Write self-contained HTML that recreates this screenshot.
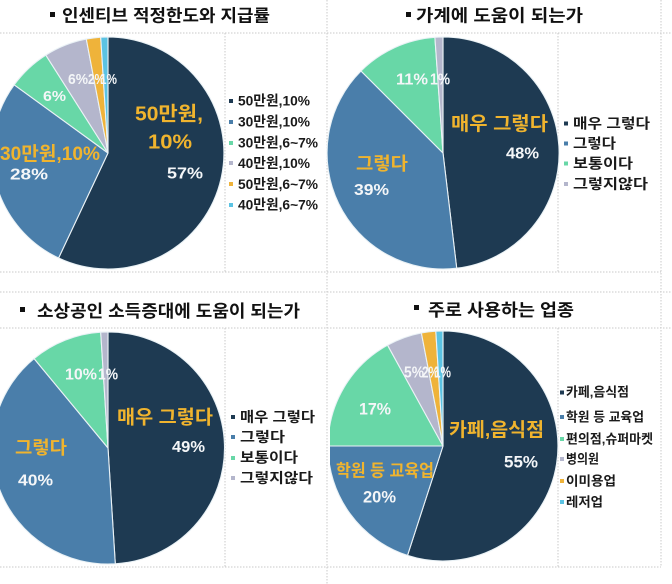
<!DOCTYPE html>
<html><head><meta charset="utf-8">
<style>
html,body{margin:0;padding:0;background:#fff;}
svg{display:block;}
text{font-family:"Liberation Sans","Noto Sans CJK KR",sans-serif;}
.t{font-size:17px;font-weight:bold;fill:#111;}
.lg{font-size:14px;font-weight:bold;fill:#1a1a1a;}
.lg4{font-size:13px;font-weight:bold;fill:#1a1a1a;}
.gd{font-weight:bold;fill:#f0b42e;}
.pc{font-weight:bold;fill:#f4f6f8;}
.grid{stroke:#c9c9c9;stroke-width:1;stroke-dasharray:1.5,1.5;fill:none;}
.s path{stroke:#eaf2f6;stroke-width:1.1;stroke-linejoin:round;}
</style></head>
<body>
<svg width="672" height="584" viewBox="0 0 672 584" xmlns="http://www.w3.org/2000/svg">
<defs>
<clipPath id="c4"><rect x="330" y="292" width="342" height="292"/></clipPath>
</defs>
<rect width="672" height="584" fill="#fff"/>

<!-- grid lines -->
<line class="grid" x1="0" y1="33" x2="672" y2="33"/>
<line class="grid" x1="0" y1="272" x2="661" y2="272"/>
<line class="grid" x1="0" y1="292" x2="672" y2="292"/>
<line class="grid" x1="0" y1="328" x2="672" y2="328"/>
<line class="grid" x1="0" y1="567" x2="661" y2="567"/>
<line class="grid" x1="225" y1="33" x2="225" y2="272"/>
<line class="grid" x1="225" y1="328" x2="225" y2="567"/>
<line class="grid" x1="327" y1="0" x2="327" y2="584"/>
<line class="grid" x1="558" y1="33" x2="558" y2="272"/>
<line class="grid" x1="558" y1="328" x2="558" y2="567"/>
<line class="grid" x1="661" y1="0" x2="661" y2="567"/>

<!-- titles -->
<rect x="50" y="12" width="5" height="5" fill="#111"/>
<text class="t" x="62" y="21.5" textLength="208" lengthAdjust="spacingAndGlyphs">인센티브 적정한도와 지급률</text>
<rect x="406" y="12" width="5" height="5" fill="#111"/>
<text class="t" x="416" y="21.5" textLength="167" lengthAdjust="spacingAndGlyphs">가계에 도움이 되는가</text>
<rect x="20" y="307" width="5" height="5" fill="#111"/>
<text class="t" x="37" y="317" textLength="263" lengthAdjust="spacingAndGlyphs">소상공인 소득증대에 도움이 되는가</text>
<rect x="414" y="305" width="5" height="5" fill="#111"/>
<text class="t" x="428" y="316" textLength="146" lengthAdjust="spacingAndGlyphs">주로 사용하는 업종</text>

<!-- PIE 1 -->
<g class="s">
<path d="M108,153 L108,37 A116,116 0 1,1 58.6,258 Z" fill="#1e3a52"/>
<path d="M108,153 L58.6,258 A116,116 0 0,1 14.2,84.8 Z" fill="#4a7eaa"/>
<path d="M108,153 L14.2,84.8 A116,116 0 0,1 45.8,55.1 Z" fill="#68d7a7"/>
<path d="M108,153 L45.8,55.1 A116,116 0 0,1 86.3,39.1 Z" fill="#b4b6cc"/>
<path d="M108,153 L86.3,39.1 A116,116 0 0,1 100.7,37.2 Z" fill="#efb33a"/>
<path d="M108,153 L100.7,37.2 A116,116 0 0,1 108,37 Z" fill="#5bc3e3"/>
</g>
<text class="gd" x="135" y="120.5" font-size="20" textLength="68" lengthAdjust="spacingAndGlyphs">50만원,</text>
<text class="gd" x="148" y="148.5" font-size="20" textLength="44" lengthAdjust="spacingAndGlyphs">10%</text>
<text class="pc" x="167" y="178.5" font-size="16" textLength="36" lengthAdjust="spacingAndGlyphs">57%</text>
<text class="gd" x="0" y="160" font-size="19" textLength="100" lengthAdjust="spacingAndGlyphs">30만원,10%</text>
<text class="pc" x="10" y="179.5" font-size="16" textLength="38" lengthAdjust="spacingAndGlyphs">28%</text>
<text class="pc" x="43" y="101" font-size="15" textLength="23" lengthAdjust="spacingAndGlyphs">6%</text>
<text class="pc" x="68" y="84" font-size="15" textLength="20" lengthAdjust="spacingAndGlyphs">6%</text>
<text class="pc" x="88" y="84" font-size="15" textLength="17" lengthAdjust="spacingAndGlyphs">2%</text>
<text class="pc" x="100" y="84" font-size="15" textLength="17" lengthAdjust="spacingAndGlyphs">1%</text>

<!-- legend 1 -->
<rect x="229" y="99" width="4" height="4" fill="#1e3a52"/>
<text class="lg" x="238" y="105.7" textLength="72" lengthAdjust="spacingAndGlyphs">50만원,10%</text>
<rect x="229" y="120" width="4" height="4" fill="#4a7eaa"/>
<text class="lg" x="238" y="126.5" textLength="72" lengthAdjust="spacingAndGlyphs">30만원,10%</text>
<rect x="229" y="141" width="4" height="4" fill="#68d7a7"/>
<text class="lg" x="238" y="147.3" textLength="80" lengthAdjust="spacingAndGlyphs">30만원,6~7%</text>
<rect x="229" y="161" width="4" height="4" fill="#b4b6cc"/>
<text class="lg" x="238" y="168.1" textLength="72" lengthAdjust="spacingAndGlyphs">40만원,10%</text>
<rect x="229" y="182" width="4" height="4" fill="#efb33a"/>
<text class="lg" x="238" y="188.9" textLength="80" lengthAdjust="spacingAndGlyphs">50만원,6~7%</text>
<rect x="229" y="203" width="4" height="4" fill="#5bc3e3"/>
<text class="lg" x="238" y="209.7" textLength="80" lengthAdjust="spacingAndGlyphs">40만원,6~7%</text>

<!-- PIE 2 -->
<g class="s">
<path d="M443,153 L443,37 A116,116 0 0,1 456.7,268.2 Z" fill="#1e3a52"/>
<path d="M443,153 L456.7,268.2 A116,116 0 0,1 361,71 Z" fill="#4a7eaa"/>
<path d="M443,153 L361,71 A116,116 0 0,1 434.9,37.3 Z" fill="#68d7a7"/>
<path d="M443,153 L434.9,37.3 A116,116 0 0,1 443,37 Z" fill="#b4b6cc"/>
</g>
<text class="gd" x="451" y="130" font-size="19" textLength="97" lengthAdjust="spacingAndGlyphs">매우 그렇다</text>
<text class="pc" x="506" y="158.5" font-size="16" textLength="33" lengthAdjust="spacingAndGlyphs">48%</text>
<text class="gd" x="356" y="170" font-size="18" textLength="52" lengthAdjust="spacingAndGlyphs">그렇다</text>
<text class="pc" x="354" y="195" font-size="16" textLength="35" lengthAdjust="spacingAndGlyphs">39%</text>
<text class="pc" x="396" y="84.5" font-size="16" textLength="32" lengthAdjust="spacingAndGlyphs">11%</text>
<text class="pc" x="430" y="84.5" font-size="16" textLength="20" lengthAdjust="spacingAndGlyphs">1%</text>

<!-- legend 2 -->
<rect x="564" y="121.5" width="4" height="4" fill="#1e3a52"/>
<text class="lg" x="573" y="128.3" textLength="77" lengthAdjust="spacingAndGlyphs">매우 그렇다</text>
<rect x="564" y="141.5" width="4" height="4" fill="#4a7eaa"/>
<text class="lg" x="573" y="148.3" textLength="43" lengthAdjust="spacingAndGlyphs">그렇다</text>
<rect x="564" y="161.5" width="4" height="4" fill="#68d7a7"/>
<text class="lg" x="573" y="168.3" textLength="60" lengthAdjust="spacingAndGlyphs">보통이다</text>
<rect x="564" y="182" width="4" height="4" fill="#b4b6cc"/>
<text class="lg" x="573" y="189" textLength="75" lengthAdjust="spacingAndGlyphs">그렇지않다</text>

<!-- PIE 3 -->
<g class="s">
<path d="M108,448 L108,332 A116,116 0 0,1 115.3,563.8 Z" fill="#1e3a52"/>
<path d="M108,448 L115.3,563.8 A116,116 0 0,1 34.1,358.6 Z" fill="#4a7eaa"/>
<path d="M108,448 L34.1,358.6 A116,116 0 0,1 100.7,332.2 Z" fill="#68d7a7"/>
<path d="M108,448 L100.7,332.2 A116,116 0 0,1 108,332 Z" fill="#b4b6cc"/>
</g>
<text class="gd" x="117" y="423.5" font-size="19" textLength="96" lengthAdjust="spacingAndGlyphs">매우 그렇다</text>
<text class="pc" x="172" y="452" font-size="16" textLength="33" lengthAdjust="spacingAndGlyphs">49%</text>
<text class="gd" x="15" y="454" font-size="18" textLength="52" lengthAdjust="spacingAndGlyphs">그렇다</text>
<text class="pc" x="18" y="485.5" font-size="16" textLength="35" lengthAdjust="spacingAndGlyphs">40%</text>
<text class="pc" x="65" y="379.5" font-size="16" textLength="32" lengthAdjust="spacingAndGlyphs">10%</text>
<text class="pc" x="98" y="379.5" font-size="16" textLength="20" lengthAdjust="spacingAndGlyphs">1%</text>

<!-- legend 3 -->
<rect x="231" y="415" width="4" height="4" fill="#1e3a52"/>
<text class="lg" x="240" y="422" textLength="75" lengthAdjust="spacingAndGlyphs">매우 그렇다</text>
<rect x="231" y="435" width="4" height="4" fill="#4a7eaa"/>
<text class="lg" x="240" y="442" textLength="45" lengthAdjust="spacingAndGlyphs">그렇다</text>
<rect x="231" y="456" width="4" height="4" fill="#68d7a7"/>
<text class="lg" x="240" y="462.7" textLength="58" lengthAdjust="spacingAndGlyphs">보통이다</text>
<rect x="231" y="476" width="4" height="4" fill="#b4b6cc"/>
<text class="lg" x="240" y="483" textLength="73" lengthAdjust="spacingAndGlyphs">그렇지않다</text>

<!-- PIE 4 -->
<g class="s" clip-path="url(#c4)">
<path d="M443,446 L443,331 A115,115 0 1,1 407.5,555.4 Z" fill="#1e3a52"/>
<path d="M443,446 L407.5,555.4 A115,115 0 0,1 328,446 Z" fill="#4a7eaa"/>
<path d="M443,446 L328,446 A115,115 0 0,1 387.6,345.2 Z" fill="#68d7a7"/>
<path d="M443,446 L387.6,345.2 A115,115 0 0,1 421.4,333 Z" fill="#b4b6cc"/>
<path d="M443,446 L421.4,333 A115,115 0 0,1 435.8,331.2 Z" fill="#efb33a"/>
<path d="M443,446 L435.8,331.2 A115,115 0 0,1 443,331 Z" fill="#5bc3e3"/>
</g>
<text class="gd" x="449" y="436" font-size="19" textLength="95" lengthAdjust="spacingAndGlyphs">카페,음식점</text>
<text class="pc" x="504" y="467.5" font-size="17" textLength="34" lengthAdjust="spacingAndGlyphs">55%</text>
<text class="gd" x="336" y="476.5" font-size="17" textLength="98" lengthAdjust="spacingAndGlyphs">학원 등 교육업</text>
<text class="pc" x="363" y="502.5" font-size="17" textLength="33" lengthAdjust="spacingAndGlyphs">20%</text>
<text class="pc" x="359" y="414.5" font-size="17" textLength="32" lengthAdjust="spacingAndGlyphs">17%</text>
<text class="pc" x="404" y="377.5" font-size="16" textLength="20" lengthAdjust="spacingAndGlyphs">5%</text>
<text class="pc" x="422" y="377.5" font-size="16" textLength="17" lengthAdjust="spacingAndGlyphs">2%</text>
<text class="pc" x="434" y="377.5" font-size="16" textLength="17" lengthAdjust="spacingAndGlyphs">1%</text>

<!-- legend 4 -->
<rect x="560" y="390.5" width="4" height="4" fill="#1e3a52"/>
<text class="lg4" x="566" y="396.7" textLength="63" lengthAdjust="spacingAndGlyphs">카페,음식점</text>
<rect x="560" y="415" width="4" height="4" fill="#4a7eaa"/>
<text class="lg4" x="566" y="421.7" textLength="78" lengthAdjust="spacingAndGlyphs">학원 등 교육업</text>
<rect x="560" y="437" width="4" height="4" fill="#68d7a7"/>
<text class="lg4" x="566" y="443.4" textLength="87" lengthAdjust="spacingAndGlyphs">편의점,슈퍼마켓</text>
<rect x="560" y="457" width="4" height="4" fill="#b4b6cc"/>
<text class="lg4" x="566" y="463.4" textLength="33" lengthAdjust="spacingAndGlyphs">병의원</text>
<rect x="560" y="479" width="4" height="4" fill="#efb33a"/>
<text class="lg4" x="566" y="485.7" textLength="50" lengthAdjust="spacingAndGlyphs">이미용업</text>
<rect x="560" y="500" width="4" height="4" fill="#5bc3e3"/>
<text class="lg4" x="566" y="506.7" textLength="37" lengthAdjust="spacingAndGlyphs">레저업</text>
</svg>
</body></html>
